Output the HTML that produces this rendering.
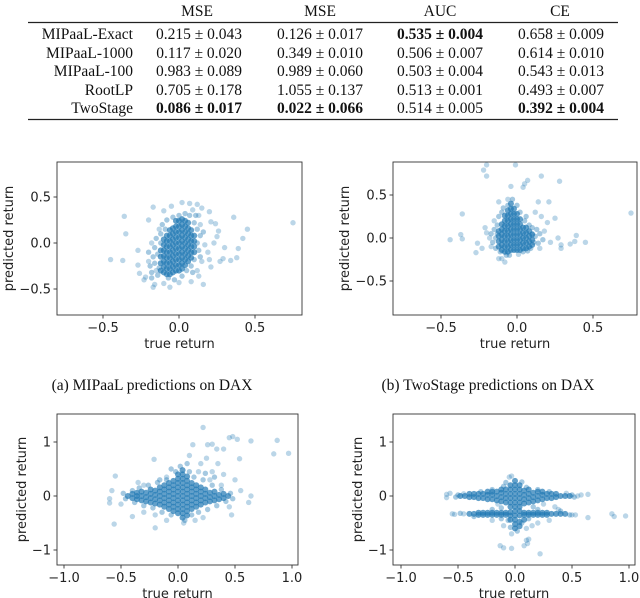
<!DOCTYPE html>
<html><head><meta charset="utf-8">
<style>
html,body{margin:0;padding:0;background:#fff;}
svg{display:block;}
.tb{font-family:"Liberation Serif",serif;font-size:15.5px;fill:#111;}
.ax{font-family:"DejaVu Sans",sans-serif;font-size:13px;fill:#222;}
</style></head>
<body>
<svg id="fig" width="640" height="598" viewBox="0 0 640 598">
<g class="tb">
<text x="197" y="16" text-anchor="middle">MSE</text>
<text x="320" y="16" text-anchor="middle">MSE</text>
<text x="440" y="16" text-anchor="middle">AUC</text>
<text x="560" y="16" text-anchor="middle">CE</text>
<line x1="28" x2="618" y1="22.5" y2="22.5" stroke="#222" stroke-width="1.2"/>
<g text-anchor="end">
<text x="133" y="39">MIPaaL-Exact</text>
<text x="133" y="58">MIPaaL-1000</text>
<text x="133" y="76">MIPaaL-100</text>
<text x="133" y="95">RootLP</text>
<text x="133" y="113">TwoStage</text>
</g>
<g text-anchor="middle">
<text x="199" y="39">0.215 ± 0.043</text><text x="320" y="39">0.126 ± 0.017</text><text x="440" y="39" font-weight="bold">0.535 ± 0.004</text><text x="561" y="39">0.658 ± 0.009</text>
<text x="199" y="58">0.117 ± 0.020</text><text x="320" y="58">0.349 ± 0.010</text><text x="440" y="58">0.506 ± 0.007</text><text x="561" y="58">0.614 ± 0.010</text>
<text x="199" y="76">0.983 ± 0.089</text><text x="320" y="76">0.989 ± 0.060</text><text x="440" y="76">0.503 ± 0.004</text><text x="561" y="76">0.543 ± 0.013</text>
<text x="199" y="95">0.705 ± 0.178</text><text x="320" y="95">1.055 ± 0.137</text><text x="440" y="95">0.513 ± 0.001</text><text x="561" y="95">0.493 ± 0.007</text>
<text x="199" y="113" font-weight="bold">0.086 ± 0.017</text><text x="320" y="113" font-weight="bold">0.022 ± 0.066</text><text x="440" y="113">0.514 ± 0.005</text><text x="561" y="113" font-weight="bold">0.392 ± 0.004</text>
</g>
<line x1="28" x2="618" y1="119.5" y2="119.5" stroke="#222" stroke-width="1.2"/>
</g>
<text class="tb" x="152" y="390" text-anchor="middle" font-size="15">(a) MIPaaL predictions on DAX</text>
<text class="tb" x="488" y="390" text-anchor="middle" font-size="15">(b) TwoStage predictions on DAX</text>
</svg>
<script>
// ---- data ----
const outA = [[-0.45,-0.18],[-0.37,-0.19],[-0.36,0.29],[-0.35,0.1],[0.75,0.22],[0.45,0.15],[0.42,0.05],[0.39,-0.06],[0.38,-0.16],[0.34,-0.19],[0.36,0.28],[0.3,-0.05],[0.29,-0.17],[0.26,0.13],[0.25,0.07],[0.21,0.23],[0.21,-0.26],[0.16,-0.45],[0.13,-0.36],[-0.17,0.39],[-0.16,-0.45],[-0.17,-0.48],[-0.2,0.25],[-0.1,0.35],[-0.05,0.4],[0.02,0.44],[0.07,0.43],[0.12,0.42],[0.09,0.36],[0.15,0.38],[0.2,0.34],[-0.27,-0.08],[-0.27,-0.24],[-0.26,-0.33],[-0.23,-0.4],[-0.22,-0.37],[-0.06,-0.48],[-0.1,-0.44],[0.0,-0.43],[0.08,-0.42],[0.24,0.21],[0.23,0.0],[0.27,-0.2],[0.2,-0.18],[0.19,-0.1],[0.17,-0.02],[-0.2,-0.2],[-0.18,0.0],[-0.15,-0.3],[0.14,0.2],[0.15,-0.2],[0.13,0.3],[-0.13,0.15],[0.12,-0.3]];
const haloA = [[-0.2,-0.1],[-0.19,-0.25],[-0.18,-0.32],[-0.17,-0.15],[-0.16,-0.05],[-0.16,-0.22],[-0.15,0.05],[-0.14,-0.35],[-0.13,-0.27],[-0.12,0.1],[-0.11,0.2],[-0.09,0.15],[-0.08,0.25],[-0.07,-0.38],[-0.04,0.28],[-0.03,-0.4],[0.0,0.3],[0.02,-0.36],[0.04,0.32],[0.05,-0.3],[0.07,0.3],[0.08,-0.25],[0.1,0.22],[0.1,-0.18],[0.12,0.15],[0.12,0.0],[0.13,-0.08],[0.14,0.08],[0.11,0.3],[0.09,-0.32],[-0.14,-0.12],[-0.12,0.0],[0.14,-0.15],[0.16,0.12],[-0.18,-0.38]];
const coreA = [[-0.12,[-0.3,-0.22,-0.15,-0.08]],[-0.10,[-0.32,-0.26,-0.2,-0.14,-0.08,-0.02,0.04]],[-0.08,[-0.34,-0.28,-0.22,-0.16,-0.1,-0.04,0.02,0.08]],[-0.06,[-0.34,-0.28,-0.22,-0.16,-0.1,-0.04,0.02,0.08,0.14]],[-0.04,[-0.32,-0.26,-0.2,-0.14,-0.08,-0.02,0.04,0.1,0.16]],[-0.02,[-0.3,-0.24,-0.18,-0.12,-0.06,0,0.06,0.12,0.18,0.24]],[0.0,[-0.3,-0.24,-0.18,-0.12,-0.06,0,0.06,0.12,0.18,0.24]],[0.02,[-0.28,-0.22,-0.16,-0.1,-0.04,0.02,0.08,0.14,0.2,0.26]],[0.04,[-0.24,-0.18,-0.12,-0.06,0,0.06,0.12,0.18,0.24]],[0.06,[-0.2,-0.14,-0.08,-0.02,0.04,0.1,0.16,0.22]],[0.08,[-0.16,-0.1,-0.04,0.02,0.08,0.14]],[0.10,[-0.1,-0.04,0.02,0.08]]];
const outB = [[-0.2,0.85],[-0.01,0.85],[-0.22,0.79],[-0.2,0.72],[0.16,0.72],[0.28,0.66],[0.07,0.67],[0.05,0.63],[0.04,0.59],[-0.04,0.6],[0.75,0.29],[-0.44,-0.02],[-0.37,0.04],[-0.36,0.28],[-0.36,-0.01],[0.45,-0.05],[0.39,0.03],[0.38,-0.04],[0.35,-0.07],[0.29,-0.08],[0.29,-0.12],[-0.27,-0.17],[-0.26,-0.06],[-0.23,-0.12],[-0.08,-0.28],[-0.1,-0.24],[-0.12,-0.24],[0.01,-0.19],[0.21,0.42],[0.14,0.42],[-0.12,0.42],[0.25,0.23],[0.2,0.18],[0.27,0.0],[-0.21,0.12],[-0.2,0.06],[-0.15,0.2],[0.18,0.08],[0.22,-0.05],[0.15,-0.12],[-0.17,-0.1],[0.12,0.3],[-0.06,0.45],[0.1,0.05],[0.16,0.25],[-0.18,0.0]];
const haloB = [[-0.17,0.05],[-0.16,-0.05],[-0.15,0.1],[-0.14,-0.12],[-0.14,0.0],[-0.13,0.15],[-0.12,0.25],[-0.11,-0.16],[-0.1,0.3],[-0.09,0.35],[-0.07,-0.2],[-0.05,-0.2],[-0.03,0.45],[0.0,0.38],[0.02,0.3],[0.04,-0.16],[0.05,0.2],[0.06,0.25],[0.08,0.15],[0.09,-0.12],[0.1,0.12],[0.11,-0.05],[0.12,0.02],[0.13,0.1],[0.14,-0.06],[0.15,0.05],[0.17,-0.02],[-0.13,0.05],[0.07,-0.15],[-0.06,0.38]];
const coreB = [[-0.12,[-0.1,-0.04,0.02,0.08]],[-0.10,[-0.14,-0.08,-0.02,0.04,0.1,0.16]],[-0.08,[-0.16,-0.1,-0.04,0.02,0.08,0.14,0.2,0.26]],[-0.06,[-0.16,-0.1,-0.04,0.02,0.08,0.14,0.2,0.26,0.32]],[-0.04,[-0.14,-0.08,-0.02,0.04,0.1,0.16,0.22,0.28,0.34,0.4]],[-0.02,[-0.14,-0.08,-0.02,0.04,0.1,0.16,0.22,0.28,0.34]],[0.0,[-0.14,-0.08,-0.02,0.04,0.1,0.16,0.22,0.28]],[0.02,[-0.14,-0.08,-0.02,0.04,0.1,0.16,0.22]],[0.04,[-0.12,-0.06,0,0.06,0.12]],[0.06,[-0.12,-0.06,0,0.06,0.12]],[0.08,[-0.1,-0.04,0.02,0.08]],[0.10,[-0.08,-0.02,0.04]]];
const outC = [[0.22,1.27],[0.48,1.1],[0.45,1.08],[0.52,1.05],[0.64,1.02],[0.87,1.03],[0.97,0.79],[0.84,0.78],[0.13,0.95],[0.26,0.95],[0.3,0.96],[0.34,0.87],[0.4,0.87],[0.54,0.69],[-0.55,0.37],[-0.58,0.1],[-0.6,-0.05],[-0.6,-0.13],[-0.5,-0.15],[-0.56,-0.52],[-0.4,-0.38],[-0.2,-0.59],[0.62,-0.12],[0.64,0],[0.47,-0.35],[-0.21,0.68],[0.3,0.45],[0.28,0.3],[0.4,0.4],[0.1,0.75],[0.2,0.6],[0.15,-0.45],[-0.1,-0.45],[0.5,0.3],[0.55,0.1],[0.45,-0.2],[-0.35,0.25],[-0.3,0.2],[0.35,0.6],[0.25,0.7],[0.18,0.45],[-0.1,0.35],[-0.2,-0.35],[0.22,-0.4],[0.05,-0.5],[-0.3,-0.3],[0.38,0.2]];
const haloC = [[-0.4,0.1],[-0.38,-0.12],[-0.34,0.15],[-0.3,-0.18],[-0.26,0.2],[-0.22,-0.22],[-0.18,0.25],[-0.14,-0.3],[-0.1,0.3],[-0.06,-0.35],[-0.02,0.45],[0.02,0.55],[0.06,-0.45],[0.1,0.45],[0.14,0.35],[0.18,-0.3],[0.22,0.3],[0.26,-0.25],[0.3,0.2],[0.34,-0.18],[0.38,0.12],[0.42,-0.1],[0.46,0.05],[0.48,-0.05],[-0.48,0.05],[-0.46,-0.05],[0.12,-0.35],[-0.16,0.3],[0.24,0.42],[0.32,0.35],[-0.06,0.5],[0.08,0.6]];
const coreC = [[-0.44,[0]],[-0.40,[-0.04,0.04]],[-0.36,[-0.06,0,0.06]],[-0.32,[-0.08,0,0.08]],[-0.28,[-0.1,-0.02,0.06]],[-0.24,[-0.12,-0.04,0.04,0.12]],[-0.20,[-0.14,-0.06,0.02,0.1]],[-0.16,[-0.16,-0.08,0,0.08,0.16]],[-0.12,[-0.2,-0.12,-0.04,0.04,0.12,0.2]],[-0.08,[-0.24,-0.16,-0.08,0,0.08,0.16,0.24]],[-0.04,[-0.28,-0.2,-0.12,-0.04,0.04,0.12,0.2,0.28]],[0.0,[-0.32,-0.24,-0.16,-0.08,0,0.08,0.16,0.24,0.32,0.4]],[0.04,[-0.4,-0.32,-0.24,-0.16,-0.08,0,0.08,0.16,0.24,0.32,0.4,0.48]],[0.08,[-0.36,-0.28,-0.2,-0.12,-0.04,0.04,0.12,0.2,0.28,0.36]],[0.12,[-0.24,-0.16,-0.08,0,0.08,0.16,0.24]],[0.16,[-0.2,-0.12,-0.04,0.04,0.12,0.2]],[0.20,[-0.16,-0.08,0,0.08,0.16]],[0.24,[-0.12,-0.04,0.04,0.12]],[0.28,[-0.1,-0.02,0.06]],[0.32,[-0.08,0,0.08]],[0.36,[-0.06,0.02]],[0.40,[-0.04,0.04]],[0.44,[0]]];
const outD = [[0.22,-1.07],[-0.13,-0.92],[-0.1,-0.96],[-0.03,-0.97],[0.08,-0.92],[0.11,-0.88],[0.12,-0.8],[0.1,-0.82],[-0.03,-0.7],[0.85,-0.33],[0.87,-0.38],[0.97,-0.37],[0.64,-0.4],[0.53,-0.35],[-0.55,-0.33],[-0.53,-0.34],[-0.6,0.03],[-0.6,-0.03],[-0.57,0.05],[0.64,0.03],[0.58,0.02],[0.55,0.0],[-0.05,0.35],[-0.03,0.37],[0.35,-0.2],[0.38,-0.25],[0.15,-0.55],[0.1,-0.6],[-0.1,-0.55],[0.2,-0.5],[-0.2,-0.45],[0.3,-0.45],[-0.15,-0.15],[0.25,-0.15],[0.45,0.05],[-0.45,0.04],[0.5,-0.35],[-0.45,-0.33]];
const haloD = [[-0.5,0.02],[-0.52,-0.02],[0.5,0.02],[0.52,-0.02],[-0.3,0.08],[-0.2,0.12],[-0.1,0.18],[0.1,0.16],[0.2,0.12],[0.3,0.08],[-0.08,0.25],[0.06,0.26],[-0.06,-0.45],[0.06,-0.5],[-0.04,-0.58],[0.02,-0.65],[0.12,-0.42],[-0.12,-0.42],[-0.48,-0.32],[0.48,-0.35],[-0.2,-0.25],[0.2,-0.25],[0.16,-0.2],[-0.12,-0.22],[0.4,-0.28],[-0.36,-0.38]];
const coreD = [[-0.48,[0]],[-0.44,[0]],[-0.40,[-0.02,0.04,-0.33]],[-0.36,[-0.02,0.04,-0.33]],[-0.32,[-0.04,0.04,-0.35,-0.31]],[-0.28,[-0.04,0.04,-0.35,-0.31]],[-0.24,[-0.06,0.02,0.08,-0.35,-0.31]],[-0.20,[-0.06,0.02,0.08,-0.35,-0.31]],[-0.16,[-0.08,0,0.08,-0.35,-0.31]],[-0.12,[-0.1,-0.02,0.06,0.12,-0.35,-0.31]],[-0.08,[-0.12,-0.04,0.04,0.12,-0.35,-0.31]],[-0.04,[-0.2,-0.12,-0.04,0.04,0.12,0.2,-0.36,-0.3,-0.44]],[0.0,[-0.6,-0.52,-0.44,-0.36,-0.28,-0.2,-0.12,-0.04,0.04,0.12,0.2,0.28]],[0.04,[-0.56,-0.48,-0.36,-0.28,-0.2,-0.12,-0.04,0.04,0.12,0.2]],[0.08,[-0.14,-0.06,0.02,0.1,-0.35,-0.31,-0.44]],[0.12,[-0.12,-0.04,0.04,0.12,-0.35,-0.31]],[0.16,[-0.1,-0.02,0.06,-0.35,-0.31]],[0.20,[-0.08,0,0.08,-0.35,-0.31]],[0.24,[-0.06,0.02,0.08,-0.35,-0.31]],[0.28,[-0.04,0.04,-0.35,-0.31]],[0.32,[-0.04,0.04,-0.33]],[0.36,[-0.02,0.04,-0.33]],[0.40,[0,-0.33]],[0.44,[0,-0.33]],[0.48,[0]]];
const ticksSmall = [-0.5, 0, 0.5];
const ticksWideX = [-1, -0.5, 0, 0.5, 1];
const ticksWideY = [-1, 0, 1];

const NS = 'http://www.w3.org/2000/svg';
const svg = document.getElementById('fig');
function mk(tag, attrs, parent){const e=document.createElementNS(NS,tag);for(const k in attrs)e.setAttribute(k,attrs[k]);parent.appendChild(e);return e;}
function fmt(v, dec){const s=Math.abs(v).toFixed(dec);return (v<0?'\u2212':'')+s;}

function plot(cfg){
  const g = mk('g',{},svg);
  
  
  const sx = v => cfg.x0 + v*cfg.kx;
  const sy = v => cfg.y0 - v*cfg.ky;
  const pts = mk('g',{},g);
  
  
  cfg.halo.forEach(p => {
    const c = mk('circle',{cx:sx(p[0]),cy:sy(p[1]),r:2.7,fill:'#1f77b4','fill-opacity':0.4},pts);
    
    
  });
  cfg.core.forEach(col => col[1].forEach(y => {
    const c = mk('circle',{cx:sx(col[0]),cy:sy(y),r:3,fill:'#1f77b4','fill-opacity':0.7},pts);
    
    
  }));
  cfg.out.forEach(p => {
    const c = mk('circle',{cx:sx(p[0]),cy:sy(p[1]),r:2.7,fill:'#1f77b4','fill-opacity':0.3},pts);
    
    
  });
  const f = mk('rect',{x:cfg.L,y:cfg.T,width:cfg.R-cfg.L,height:cfg.B-cfg.T,fill:'none',stroke:'#333','stroke-width':0.9},g);
  
  
  cfg.xt.forEach(v => {
    const x = sx(v);
    mk('line',{x1:x,x2:x,y1:cfg.B,y2:cfg.B+3.5,stroke:'#333','stroke-width':0.9},g);
    const t = mk('text',{x:x,y:cfg.B+17,'text-anchor':'middle',class:'ax'},g);
    t.textContent = fmt(v,1);
    
    
  });
  cfg.yt.forEach(v => {
    const y = sy(v);
    mk('line',{x1:cfg.L-3.5,x2:cfg.L,y1:y,y2:y,stroke:'#333','stroke-width':0.9},g);
    const t = mk('text',{x:cfg.L-6,y:y+4.5,'text-anchor':'end',class:'ax'},g);
    t.textContent = fmt(v,cfg.ydec);
    
    
  });
  const xl = mk('text',{x:(cfg.L+cfg.R)/2,y:cfg.B+33,'text-anchor':'middle',class:'ax'},g);
  xl.textContent = 'true return';
  
  
  const yl = mk('text',{x:0,y:0,'text-anchor':'middle',class:'ax',transform:'translate('+cfg.ylx+','+((cfg.T+cfg.B)/2)+') rotate(-90)'},g);
  yl.textContent = 'predicted return';
  
  
}

plot({name:'scatter-a-top',L:57,R:302,T:162,B:315,x0:179,kx:152,y0:243,ky:92,xt:ticksSmall,yt:ticksSmall,ydec:1,ylx:13,core:coreA,out:outA,halo:haloA});
plot({name:'scatter-b-top',L:393,R:637,T:162,B:315,x0:517,kx:152,y0:238,ky:86,xt:ticksSmall,yt:ticksSmall,ydec:1,ylx:349,core:coreB,out:outB,halo:haloB});
plot({name:'scatter-a-bottom',L:57,R:298,T:414,B:565,x0:178,kx:114,y0:496,ky:54,xt:ticksWideX,yt:ticksWideY,ydec:0,ylx:26,core:coreC,out:outC,halo:haloC});
plot({name:'scatter-b-bottom',L:393,R:635,T:414,B:565,x0:515,kx:114,y0:496,ky:54,xt:ticksWideX,yt:ticksWideY,ydec:0,ylx:362,core:coreD,out:outD,halo:haloD});
</script>
</body></html>
